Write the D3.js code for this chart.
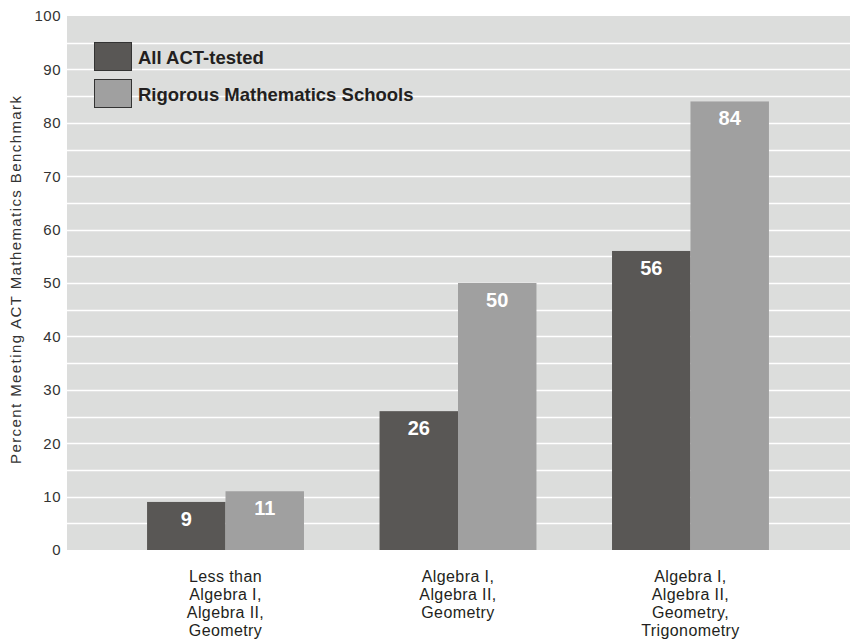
<!DOCTYPE html>
<html><head><meta charset="utf-8">
<script src="https://cdn.jsdelivr.net/npm/d3@7"></script>
<style>body{margin:0;background:#fff;} svg{display:block;font-family:"Liberation Sans",Arial,sans-serif;}</style>
</head><body><svg id="c" width="850" height="643"></svg>
<script>
const categories = [["Less than","Algebra I,","Algebra II,","Geometry"],["Algebra I,","Algebra II,","Geometry"],["Algebra I,","Algebra II,","Geometry,","Trigonometry"]];
const seriesNames = ["All ACT-tested","Rigorous Mathematics Schools"];
const allACT = [9, 26, 56];
const rigorous = [11, 50, 84];
const yTicks = [0,10,20,30,40,50,60,70,80,90,100];
const gridVals = d3.range(5, 100, 5);
const colors = ["#595755","#a0a0a0"];

const svg = d3.select("#c");
const L = 67, R = 850, T = 16, B = 550;
const y = d3.scaleLinear().domain([0,100]).range([B, T]);
const x = d3.scaleBand().domain(d3.range(categories.length)).range([71.5, 844.5]).paddingInner(0.325).paddingOuter(0.325);
const xs = d3.scaleBand().domain([0,1]).range([0, x.bandwidth()]);

svg.append("rect").attr("x", L).attr("y", T).attr("width", R-L).attr("height", B-T).attr("fill", "#dcdddc");
svg.append("g").selectAll("line").data(gridVals).join("line")
  .attr("x1", L).attr("x2", R).attr("y1", d=>Math.round(y(d))+0.5).attr("y2", d=>Math.round(y(d))+0.5)
  .attr("stroke", "#fff").attr("stroke-width", 1.5);

// y axis
const yAxis = svg.append("g").attr("transform", `translate(${L},0)`)
  .call(d3.axisLeft(y).tickValues(yTicks).tickSize(0).tickPadding(6));
yAxis.select(".domain").remove();
yAxis.selectAll("text").attr("font-size", 15).attr("fill", "#333").attr("letter-spacing", 0.5)
  .attr("font-family", "Liberation Sans, Arial, sans-serif");

svg.append("text").attr("transform", `translate(21,280) rotate(-90)`)
  .attr("text-anchor", "middle").attr("font-size", 15).attr("fill", "#333")
  .attr("textLength", 368).attr("lengthAdjust", "spacing")
  .text("Percent Meeting ACT Mathematics Benchmark");

const series = [allACT, rigorous];
series.forEach((vals, si) => {
  const g = svg.append("g");
  g.selectAll("rect").data(vals).join("rect")
    .attr("x", (d,i)=>x(i)+xs(si)).attr("width", xs.bandwidth())
    .attr("y", d=>y(d)).attr("height", d=>B-y(d)).attr("fill", colors[si]);
  g.selectAll("text").data(vals).join("text")
    .attr("x", (d,i)=>x(i)+xs(si)+xs.bandwidth()/2).attr("y", d=>y(d)+24)
    .attr("text-anchor","middle").attr("font-size", 20).attr("font-weight","bold").attr("fill","#fff")
    .text(d=>d);
});

// x labels
const xl = svg.append("g");
categories.forEach((lines, i) => {
  const t = xl.append("text").attr("text-anchor","middle").attr("font-size", 16).attr("fill","#231f20")
    .attr("letter-spacing", 0.4);
  lines.forEach((ln, j) => {
    t.append("tspan").attr("x", x(i)+x.bandwidth()/2).attr("y", 582 + j*18).text(ln);
  });
});

// legend
const lg = svg.append("g");
seriesNames.forEach((n, i) => {
  lg.append("rect").attr("x", 94.5).attr("y", 42.5 + i*37).attr("width", 37).attr("height", 28)
    .attr("fill", colors[i]).attr("stroke", "#333").attr("stroke-width", 1);
  lg.append("text").attr("x", 138).attr("y", 64 + i*37).attr("font-size", 18.5).attr("font-weight","bold")
    .attr("fill","#231f20").text(n);
});
</script></body></html>
